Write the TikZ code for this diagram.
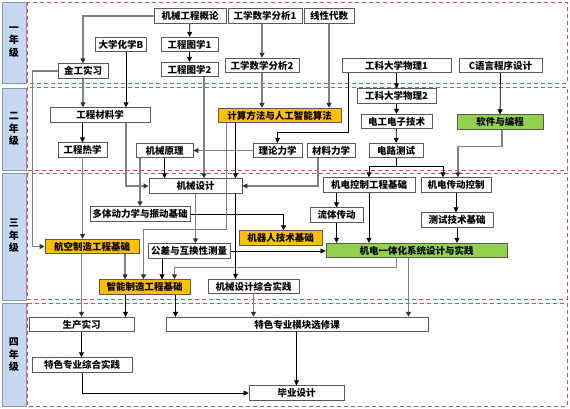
\documentclass[tikz,border=0pt]{standalone}
\usepackage{fontspec}
\newfontfamily\cjk{Noto Sans CJK SC}
\usetikzlibrary{arrows.meta}
\pgfdeclarelayer{bg}
\pgfdeclarelayer{edges}
\pgfsetlayers{bg,edges,main}
\definecolor{panelblue}{RGB}{198,217,240}
\definecolor{panelline}{RGB}{140,150,165}
\definecolor{dashred}{RGB}{205,80,80}
\definecolor{orangef}{RGB}{255,192,0}
\definecolor{greenf}{RGB}{146,208,80}
\definecolor{lgray}{RGB}{128,128,128}
\tikzset{
  box/.style={draw=black!65, line width=0.9pt, fill=white, minimum height=14.5pt, inner sep=0pt,
    font=\cjk\bfseries\fontsize{9.5}{10}\selectfont},
  obox/.style={box, fill=orangef},
  gbox/.style={box, fill=greenf},
  bl/.style={draw=black, line width=0.8pt, -{Triangle[length=5pt,width=5pt,color=black]}},
  gl/.style={draw=lgray, line width=1.3pt, -{Triangle[length=5pt,width=5pt,color=black!80]}},
  yearpanel/.style={draw=panelline, line width=1pt, fill=panelblue},
  yearrect/.style={draw=dashred, line width=0.9pt, dash pattern=on 4pt off 3pt},
  yeartext/.style={align=center, inner sep=0pt, font=\cjk\bfseries\fontsize{10}{12.5}\selectfont}
}
\begin{document}
\begin{tikzpicture}[x=1pt,y=-1pt]
\useasboundingbox (0,0) rectangle (570,408);
% year 1 nodes
\node[box, minimum width=72pt] (jxgcgl) at (190,16) {机械工程概论};
\node[box, minimum width=74pt] (gxsx1) at (265,16) {工学数学分析1};
\node[box, minimum width=50pt] (xxds) at (329,16) {线性代数};
\node[box, minimum width=51pt] (dxhx) at (121,44.5) {大学化学B};
\node[box, minimum width=57pt] (gctx1) at (189.5,44.5) {工程图学1};
\node[box, minimum width=57pt] (gctx2) at (189.5,69.5) {工程图学2};
\node[box, minimum width=74pt] (gxsx2) at (262,65.5) {工学数学分析2};
\node[box, minimum width=109pt] (wl1) at (396.5,65.5) {工科大学物理1};
\node[box, minimum width=83pt] (cyy) at (500.5,65.5) {C语言程序设计};
\node[box, minimum width=50pt] (jgsx) at (83,71) {金工实习};
% year 2 nodes
\node[box, minimum width=100pt] (gccl) at (100,115) {工程材料学};
\node[obox, minimum width=123pt] (jsff) at (279.5,115.5) {计算方法与人工智能算法};
\node[box, minimum width=79pt] (wl2) at (396.5,96) {工科大学物理2};
\node[box, minimum width=71pt] (dgdz) at (396.5,121.5) {电工电子技术};
\node[gbox, minimum width=86pt] (rjbc) at (500,122) {软件与编程};
\node[box, minimum width=49pt] (gcrx) at (82.5,150) {工程热学};
\node[box, minimum width=57pt] (jxyl) at (164.5,150.5) {机械原理};
\node[box, minimum width=49pt] (llx) at (277.5,150.5) {理论力学};
\node[box, minimum width=48pt] (clx) at (331,150.5) {材料力学};
\node[box, minimum width=54pt] (dlcs) at (396,150.5) {电路测试};
% year 3 nodes
\node[box, minimum width=93pt] (jxsj) at (195.5,186) {机械设计};
\node[box, minimum width=92pt] (jdkz) at (369,185) {机电控制工程基础};
\node[box, minimum width=70pt] (jdcd) at (456,185) {机电传动控制};
\node[box, minimum width=100pt] (dtdl) at (140,214) {多体动力学与振动基础};
\node[box, minimum width=53pt] (ltcd) at (336.5,215) {流体传动};
\node[box, minimum width=72pt] (csjs) at (457,220) {测试技术基础};
\node[obox, minimum width=83pt] (jqr) at (280.5,238) {机器人技术基础};
\node[obox, minimum width=94pt] (hkzz) at (92,246.5) {航空制造工程基础};
\node[box, minimum width=82pt] (gc) at (189,251) {公差与互换性测量};
\node[gbox, minimum width=181pt] (jdyth) at (416.5,250.5) {机电一体化系统设计与实践};
\node[obox, minimum width=91pt] (znzz) at (144.5,287) {智能制造工程基础};
\node[box, minimum width=91pt] (jxzh) at (253.5,286.5) {机械设计综合实践};
% year 4 nodes
\node[box, minimum width=105pt] (scsx) at (81.5,324.5) {生产实习};
\node[box, minimum width=262pt] (tsmk) at (297,324.5) {特色专业模块选修课};
\node[box, minimum width=100pt] (tszh) at (82,365) {特色专业综合实践};
\node[box, minimum width=95pt] (bysj) at (296.5,393) {毕业设计};

% line drawn over the boxes
\draw[gl] ([xshift=-53pt]jsff.south) -- ++(0,106) -| ([xshift=-1pt]znzz.north);

\begin{pgfonlayer}{bg}
\draw[yearpanel] (2,2) rectangle (26,83);
\draw[yearpanel] (2,88) rectangle (26,170);
\draw[yearpanel] (2,173) rectangle (26,300);
\draw[yearpanel] (2,303) rectangle (26,406);
\node[yeartext] (y1) at (14,42) {一\\年\\级};
\node[yeartext] (y2) at (14,129) {二\\年\\级};
\node[yeartext] (y3) at (14,236) {三\\年\\级};
\node[yeartext] (y4) at (14,355) {四\\年\\级};
\draw[yearrect] (27,2) rectangle (567,83);
\draw[yearrect] (27,87) rectangle (567,170);
\draw[yearrect] (27,173) rectangle (567,299);
\draw[yearrect] (27,303) rectangle (567,406);
\end{pgfonlayer}

\begin{pgfonlayer}{edges}
\draw[bl] (jxgcgl) -- (gctx1);
\draw[bl] (gctx1) -- (gctx2);
\draw[gl] (jxgcgl.west) -| (jgsx.north);
\draw[gl] (gxsx1.south -| gxsx2.north) -- (gxsx2.north);
\draw[gl] (gxsx2.south) -- (gxsx2.south |- jsff.north);
\draw[gl] (xxds.south) -- (xxds.south |- jsff.north);
\draw[gl] (jgsx.south) -- (jgsx.south |- gccl.north);
\draw[bl] ([xshift=5pt]dxhx.south) -- ([xshift=5pt]dxhx.south |- gccl.north);
\draw[gl] (jgsx.west) -- ++(-25,0) |- (hkzz.west);
\draw[gl] ([xshift=14.5pt]gctx2.south) -- ([xshift=14.5pt]gctx2.south |- jxsj.north);
\draw[bl] ([xshift=-48.5pt]wl1.south) -- ++(0,59) -| (llx.north);
\draw[bl] (wl1) -- (wl2);
\draw[bl] (wl2) -- (dgdz);
\draw[bl] (dgdz) -- (dlcs);
\draw[bl] (cyy) -- (rjbc);
\draw[bl] (gccl.south -| gcrx.north) -- (gcrx.north);
\draw[gl] ([xshift=26pt]gccl.south) |- (jxsj.west);
\draw[gl] (llx.west) -- (jxyl.east);
\draw[bl] (jxyl.south) -- (jxyl.south |- jxsj.north);
\draw[gl] (jxyl.south -| dtdl.north) -- (dtdl.north);
\draw[bl] ([xshift=-44pt]jsff.south) -- ([xshift=-44pt]jsff.south |- jxsj.north);
\draw[gl] ([xshift=-13pt]clx.south) |- (jxsj.east);
\draw[bl] (dlcs.south) -- ++(0,8) -| (jdkz.north);
\draw[bl] (dlcs.south) -- ++(0,8) -| ([xshift=-13pt]jdcd.north);
\draw[gl] ([xshift=2pt]rjbc.south) -- ++(0,17) -| ([xshift=2pt]jdcd.north);
\draw[gl] (jxsj.south) -- (jxsj.south |- gc.north);
\draw[bl] (dtdl.east) -| ([xshift=3pt]jqr.north);
\draw[gl] (gcrx.south) -- (gcrx.south |- hkzz.north);
\draw[gl] ([xshift=33pt]hkzz.south) -- ([xshift=33pt]hkzz.south |- znzz.north);
\draw[gl] (hkzz.south -| scsx.north) -- (scsx.north);
\draw[bl] ([xshift=-27pt]gc.south) -- ([xshift=-27pt]gc.south |- znzz.north);
\draw[bl] (gc.east) -- (gc.east -| jdyth.west);
\draw[gl] ([xshift=-20pt]jdyth.south) -- ++(0,9) -| ([xshift=30pt]znzz.north);
\draw[gl] ([xshift=-8pt]jdyth.south) -- ([xshift=-8pt]jdyth.south |- tsmk.north);
\draw[bl] (jdkz.south -| ltcd.north) -- (ltcd.north);
\draw[bl] (jdkz.south) -- (jdkz.south |- jdyth.north);
\draw[bl] (ltcd.south) -- (ltcd.south |- jdyth.north);
\draw[bl] (jdcd.south) -- (jdcd.south |- csjs.north);
\draw[bl] (csjs.south) -- (csjs.south |- jdyth.north);
\draw[bl] ([xshift=40pt]jxsj.south) -- ([xshift=40pt]jxsj.south |- jxzh.north);
\draw[bl] ([xshift=-19pt]znzz.south) -- ([xshift=-19pt]znzz.south |- scsx.north);
\draw[bl] ([xshift=31pt]znzz.south) -- ([xshift=31pt]znzz.south |- tsmk.north);
\draw[gl] (jxzh.south) -- (jxzh.south |- tsmk.north);
\draw[bl] (scsx.south) -- (scsx.south |- tszh.north);
\draw[bl] (tszh.south) |- (bysj.west);
\draw[bl] (tsmk.south -| bysj.north) -- (bysj.north);
\end{pgfonlayer}
\end{tikzpicture}
\end{document}
